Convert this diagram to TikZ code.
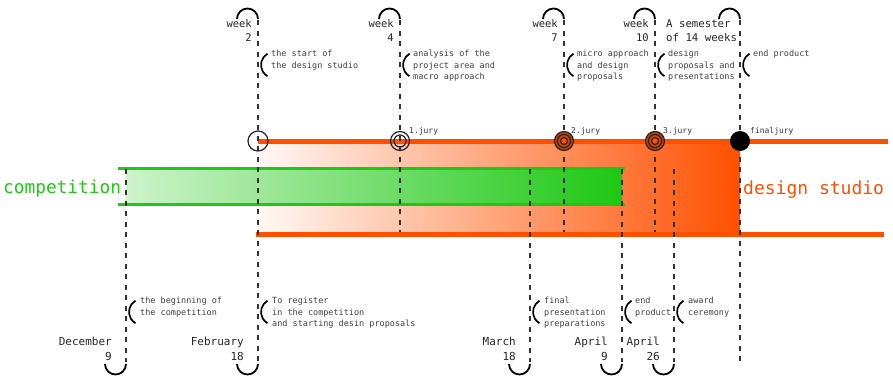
\documentclass[tikz,border=0pt]{standalone}
\usepackage{fontspec}
\setmonofont{DejaVu Sans Mono}
\usepackage{tikz}
\usetikzlibrary{positioning}
\usepackage{xcolor}
\definecolor{studioorange}{RGB}{255,80,0}
\definecolor{compgreen}{RGB}{30,200,20}

\tikzset{
  tickline/.style={black!80, line width=1.4pt, dash pattern=on 5pt off 5.5pt},
  arcmark/.style={black, line width=1.8pt},
  bracket/.style={black, line width=1.7pt},
  desc/.style={anchor=north west, align=left, inner sep=0pt, text=black!75,
    font=\ttfamily\fontsize{8.5}{11.5}\selectfont},
  weeklabel/.style={anchor=north east, align=right, inner sep=0pt, text=black!85,
    font=\ttfamily\fontsize{10.5}{14.5}\selectfont},
  monthlabel/.style={anchor=north east, align=right, inner sep=0pt, text=black!85,
    font=\ttfamily\fontsize{11}{15}\selectfont},
  jurylabel/.style={anchor=base west, inner sep=0pt, text=black!80,
    font=\ttfamily\fontsize{8}{9}\selectfont},
  ring/.style={circle, draw=black!85, line width=1.2pt, inner sep=0pt}
}

\begin{document}
\begin{tikzpicture}[x=1pt, y=-1pt]
    \useasboundingbox (0,0) rectangle (893,380);
    % Bands
    \shade[left color=studioorange!4, right color=studioorange] (258,142) rectangle (740,234);
    \shade[left color=compgreen!22, right color=compgreen] (126,168) rectangle (622,204);
    \draw[studioorange, line width=5pt] (258,141) -- (888,141);
    \draw[studioorange, line width=5pt] (256,234) -- (884,234);
    \draw[compgreen, line width=3pt] (118,168) -- (625,168);
    \draw[compgreen, line width=3pt] (118,204) -- (625,204);
    \node[anchor=base west, inner sep=0pt, text=compgreen,
      font=\ttfamily\fontsize{17.8}{20}\selectfont] (comp) at (3,193) {competition};
    \node[anchor=base west, inner sep=0pt, text=studioorange,
      font=\ttfamily\fontsize{18}{20}\selectfont] (studio) at (743,194) {design studio};
    % Weeks (above)
    \foreach \x/\y/\w [count=\i] in {258/362/2, 400/232/4, 564/232/7, 655/232/10} {
      \coordinate (wtop\i) at (\x,20);
      \coordinate (wbot\i) at (\x,\y);
      \draw[tickline] (wtop\i) -- (wbot\i);
      \draw[arcmark] (\x,19) arc[start angle=0, end angle=-180, radius=10.5];
      \node[weeklabel] (week\i) at (\x-6,19) {week\\\w};
    }
    \coordinate (semtop) at (740,20);
    \coordinate (sembot) at (740,362);
    \draw[tickline] (semtop) -- (sembot);
    \draw[arcmark] (740,19) arc[start angle=0, end angle=-180, radius=10.5];
    \node[weeklabel, anchor=north west, align=left,
      font=\ttfamily\fontsize{10.7}{14.5}\selectfont] (semester) at (666,19)
      {A semester\\of 14 weeks};
    % Dates (below)
    \foreach \x/\m/\d [count=\i] in {126/December/9, 530/March/18, 622/April/9, 674/April/26} {
      \coordinate (dtop\i) at (\x,169);
      \coordinate (dbot\i) at (\x,362);
      \draw[tickline] (dtop\i) -- (dbot\i);
    }
    \foreach \x/\m/\d in {126/December/9, 258/February/18, 530/March/18, 622/April/9, 674/April/26} {
      \draw[arcmark] (\x,364) arc[start angle=0, end angle=180, radius=10.5];
      \node[monthlabel] at (\x-14,337) {\m\\\d};
    }
    % Brackets of the notes
    \foreach \x in {258, 400, 564, 655, 740}
      \draw[bracket] (\x+3+6.5,53.7) arc[start angle=-120, end angle=-240, radius=13];
    \foreach \x in {126, 258, 530, 622, 674}
      \draw[bracket] (\x+3+6.5,300.7) arc[start angle=-120, end angle=-240, radius=13];
    % Notes
    \node[desc] (n1) at (271,50) {the start of\\the design studio};
    \node[desc] (n2) at (413,50) {analysis of the\\project area and\\macro approach};
    \node[desc] (n3) at (577,50) {micro approach\\and design\\proposals};
    \node[desc] (n4) at (668,50) {design\\proposals and\\presentations};
    \node[desc] (n5) at (753,50) {end product};
    \node[desc] (m1) at (140,297) {the beginning of\\the competition};
    \node[desc] (m2) at (272,297) {To register\\in the competition\\and starting desin proposals};
    \node[desc] (m3) at (544,297) {final\\presentation\\preparations};
    \node[desc] (m4) at (635,297) {end\\product};
    \node[desc] (m5) at (688,297) {award\\ceremony};
    % Juries
    \node[ring, minimum size=20pt] (start) at (258,141) {};
    \node[ring, minimum size=19pt] (jury1) at (400,141) {};
    \node[ring, minimum size=12pt] at (jury1) {};
    \foreach \x [count=\i from 2] in {564, 655} {
      \node[ring, minimum size=19pt, fill=studioorange!75!black] (jury\i) at (\x,141) {};
      \node[ring, minimum size=13pt, fill=studioorange!85!black] at (jury\i) {};
      \node[ring, minimum size=7pt, fill=studioorange] at (jury\i) {};
    }
    \node[circle, fill=black, inner sep=0pt, minimum size=20pt] (final) at (740,141) {};
    \node[jurylabel] at (409,133) {1.jury};
    \node[jurylabel] at (571,133) {2.jury};
    \node[jurylabel] at (663,133) {3.jury};
    \node[jurylabel] at (750,133) {finaljury};
  \end{tikzpicture}
\end{document}
